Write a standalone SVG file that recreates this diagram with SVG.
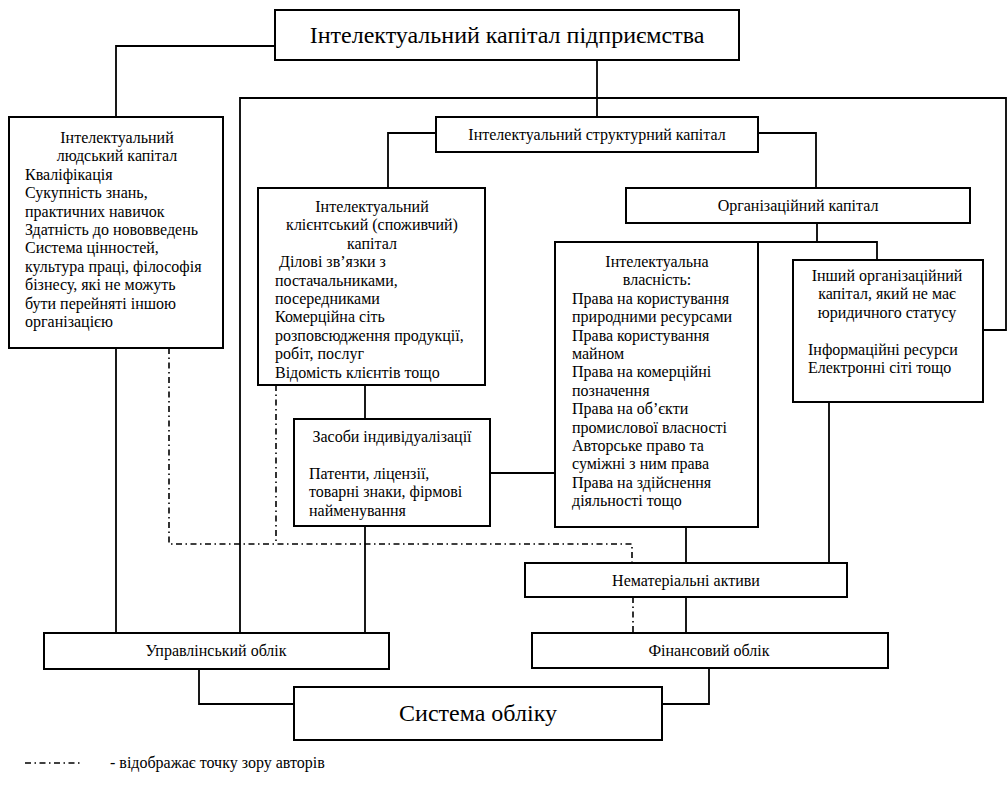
<svg xmlns="http://www.w3.org/2000/svg" width="1008" height="803" viewBox="0 0 1008 803">
<style>
rect{fill:#fff;stroke:#000;stroke-width:2}
text{font-family:'Liberation Serif','Times New Roman','DejaVu Serif',serif;fill:#000;font-size:16px}
.c{text-anchor:middle}
.b{font-size:24px}
.ln{fill:none;stroke:#000;stroke-width:1.8}
.dd{fill:none;stroke:#000;stroke-width:1.6;stroke-dasharray:6 3.5 1.5 3.5}
</style>
<rect x="0" y="0" width="1008" height="803" style="stroke:none"/>
<g id="connectors">
<polyline class="ln" points="275,46 116,46 116,117"/>
<polyline class="ln" points="597,60 597,117"/>
<polyline class="ln" points="240,633 240,98 1006,98 1006,330 983,330"/>
<polyline class="ln" points="436,133 388,133 388,188"/>
<polyline class="ln" points="758,133 816,133 816,188"/>
<polyline class="ln" points="817,223 817,242"/>
<polyline class="ln" points="686,242 877,242 877,260"/>
<polyline class="ln" points="829,402 829,563"/>
<polyline class="ln" points="686,527 686,563"/>
<polyline class="ln" points="490,473 555,473"/>
<polyline class="ln" points="365,385 365,419"/>
<polyline class="ln" points="365,526 365,633"/>
<polyline class="ln" points="116,348 116,633"/>
<polyline class="ln" points="199,669 199,704 294,704"/>
<polyline class="ln" points="686,597 686,633"/>
<polyline class="ln" points="709,668 709,704 662,704"/>
<polyline class="dd" points="169,348 169,544 632,544 632,563"/>
<polyline class="dd" points="276,385 276,544"/>
<polyline class="dd" points="633,597 633,633"/>
</g>
<g font-family="Liberation Serif, DejaVu Serif, serif">
<g id="n-title">
<rect x="275" y="10" width="464" height="50"/>
<text class="c b" x="507" y="43">Інтелектуальний капітал підприємства</text>
</g>
<g id="n-human">
<rect x="9" y="117" width="214" height="231"/>
<text class="c" x="117" y="143">Інтелектуальний</text>
<text class="c" x="117" y="161.4">людський капітал</text>
<text x="25" y="179.8">Кваліфікація</text>
<text x="25" y="198.2">Сукупність знань,</text>
<text x="25" y="216.6">практичних навичок</text>
<text x="25" y="235">Здатність до нововведень</text>
<text x="25" y="253.4">Система цінностей,</text>
<text x="25" y="271.8">культура праці, філософія</text>
<text x="25" y="290.2">бізнесу, які не можуть</text>
<text x="25" y="308.6">бути перейняті іншою</text>
<text x="25" y="327">організацією</text>
</g>
<g id="n-struct">
<rect x="436" y="117" width="322" height="35"/>
<text class="c" x="597" y="140">Інтелектуальний структурний капітал</text>
</g>
<g id="n-client">
<rect x="258" y="188" width="227" height="197"/>
<text class="c" x="372" y="212">Інтелектуальний</text>
<text class="c" x="372" y="230.4">клієнтський (споживчий)</text>
<text class="c" x="372" y="248.8">капітал</text>
<text x="275" y="267.2" xml:space="preserve"> Ділові зв’язки з</text>
<text x="275" y="285.6">постачальниками,</text>
<text x="275" y="304">посередниками</text>
<text x="275" y="322.4">Комерційна сіть</text>
<text x="275" y="340.8">розповсюдження продукції,</text>
<text x="275" y="359.2">робіт, послуг</text>
<text x="275" y="377.6">Відомість клієнтів тощо</text>
</g>
<g id="n-org">
<rect x="626" y="188" width="344" height="35"/>
<text class="c" x="798" y="211">Організаційний капітал</text>
</g>
<g id="n-ip">
<rect x="555" y="242" width="203" height="285"/>
<text class="c" x="657" y="267">Інтелектуальна</text>
<text class="c" x="657" y="285.4">власність:</text>
<text x="572" y="303.8">Права на користування</text>
<text x="572" y="322.2">природними ресурсами</text>
<text x="572" y="340.6">Права користування</text>
<text x="572" y="359">майном</text>
<text x="572" y="377.4">Права на комерційні</text>
<text x="572" y="395.8">позначення</text>
<text x="572" y="414.2">Права на об’єкти</text>
<text x="572" y="432.6">промислової власності</text>
<text x="572" y="451">Авторське право та</text>
<text x="572" y="469.4">суміжні з ним права</text>
<text x="572" y="487.8">Права на здійснення</text>
<text x="572" y="506.2">діяльності тощо</text>
</g>
<g id="n-other">
<rect x="793" y="260" width="190" height="142"/>
<text class="c" x="887" y="281">Інший організаційний</text>
<text class="c" x="887" y="299.4">капітал, який не має</text>
<text class="c" x="887" y="317.8">юридичного статусу</text>
<text x="808" y="354.6">Інформаційні ресурси</text>
<text x="808" y="373">Електронні сіті тощо</text>
</g>
<g id="n-zasoby">
<rect x="294" y="419" width="196" height="107"/>
<text class="c" x="392" y="442">Засоби індивідуалізації</text>
<text x="309" y="478.8">Патенти, ліцензії,</text>
<text x="309" y="497.2">товарні знаки, фірмові</text>
<text x="309" y="515.6">найменування</text>
</g>
<g id="n-nemat">
<rect x="525" y="563" width="322" height="34"/>
<text class="c" x="686" y="585.5">Нематеріальні активи</text>
</g>
<g id="n-uprav">
<rect x="44" y="633" width="345" height="36"/>
<text class="c" x="216" y="656">Управлінський облік</text>
</g>
<g id="n-fin">
<rect x="532" y="633" width="356" height="35"/>
<text class="c" x="709" y="656">Фінансовий облік</text>
</g>
<g id="n-system">
<rect x="294" y="687" width="368" height="53"/>
<text class="c b" x="478" y="721">Система обліку</text>
</g>
<g id="legend">
<line class="dd" x1="25" y1="763" x2="80" y2="763"/>
<text x="110" y="768">- відображає точку зору авторів</text>
</g>
</g>
</svg>
